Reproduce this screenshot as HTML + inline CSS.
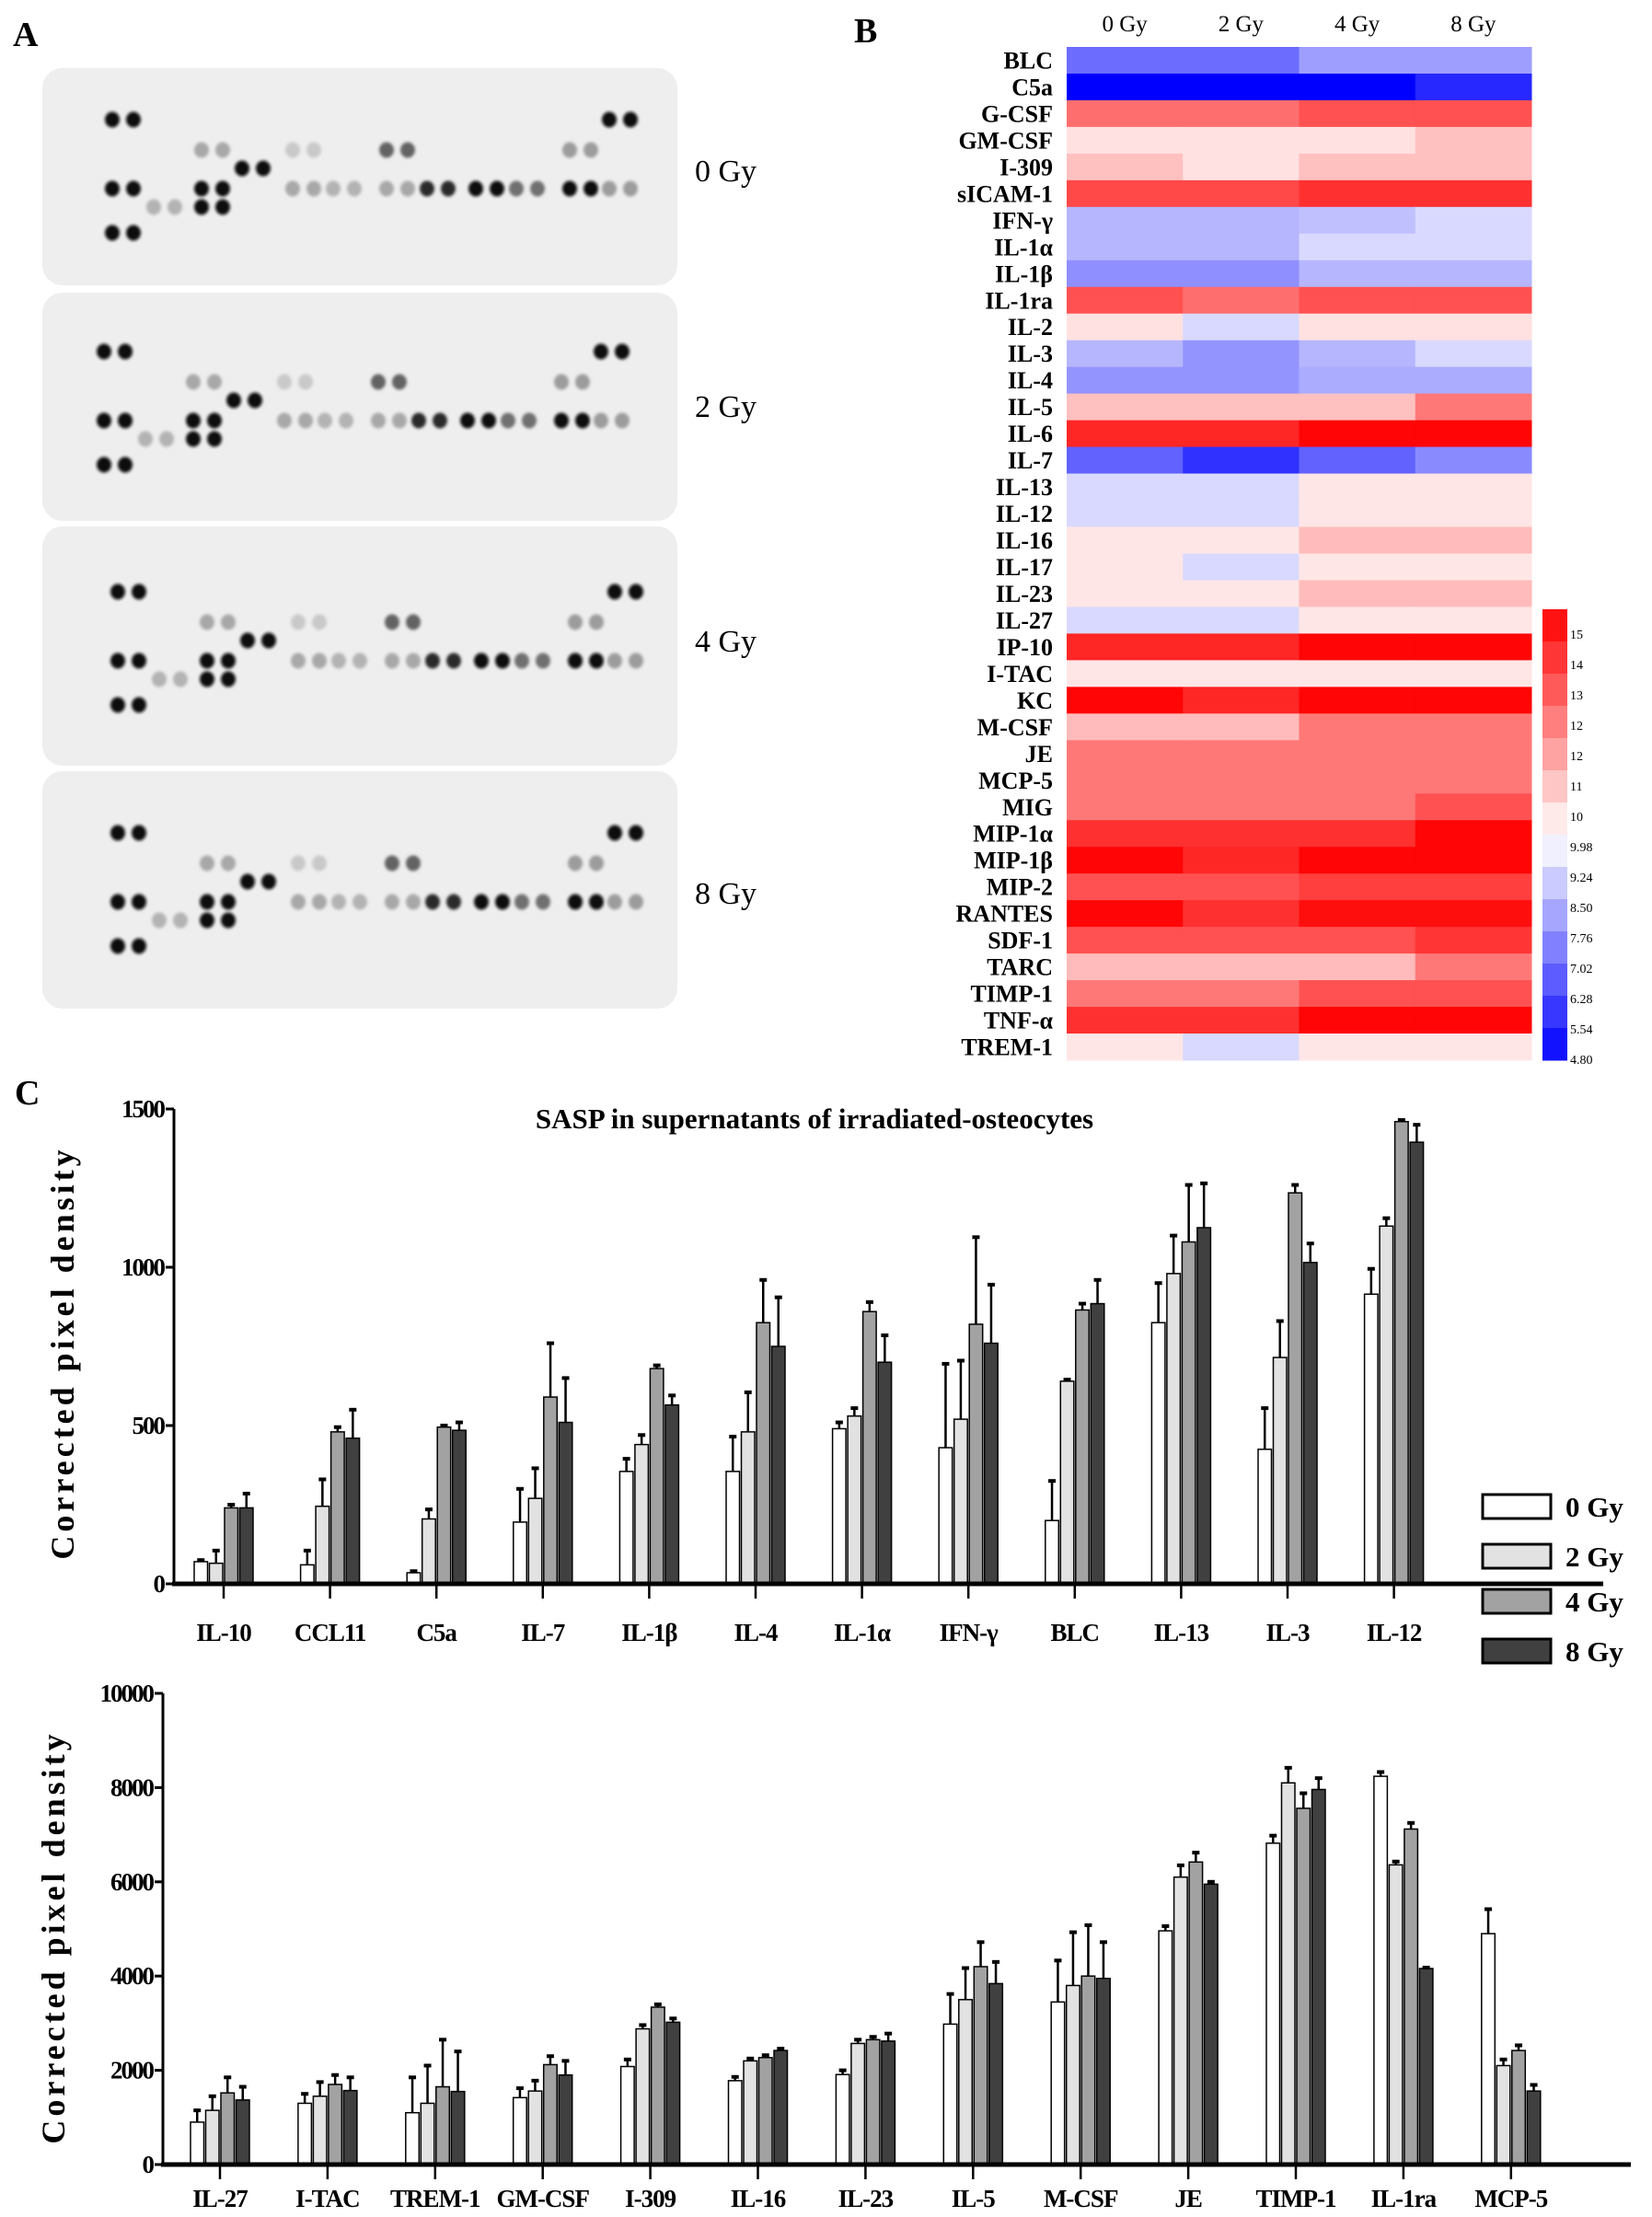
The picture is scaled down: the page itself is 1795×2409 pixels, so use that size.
<!DOCTYPE html>
<html><head><meta charset="utf-8"><style>
html,body{margin:0;padding:0;background:#fff}
svg{display:block}
text{font-family:"Liberation Serif",serif}
</style></head><body>
<svg id="fig" width="1795" height="2409" viewBox="0 0 1795 2409" xmlns="http://www.w3.org/2000/svg">
<defs><filter id="blur" x="-50%" y="-50%" width="200%" height="200%"><feGaussianBlur stdDeviation="1.6"/></filter></defs>
<g id="panelA"></g>
<g id="panelB"></g>
<g id="chart1"></g>
<g id="chart2"></g>
</svg>
<script>
const NS="http://www.w3.org/2000/svg";
function mk(parent,tag,attrs,txt){const e=document.createElementNS(NS,tag);for(const k in attrs)e.setAttribute(k,attrs[k]);if(txt!==undefined)e.textContent=txt;parent.appendChild(e);return e;}

// ---------- Panel A data ----------
const blotDoses=["0 Gy","2 Gy","4 Gy","8 Gy"];
const blotRowY=[130,163,183,205,225,253];
const blotSpots=[[122,0,1],[122,3,1],[122,5,1],[167,4,0.25],[219,1,0.3],[219,3,1],[219,4,1],[263,2,1],[318,1,0.15],[318,3,0.3],[362,3,0.25],[420,1,0.6],[420,3,0.3],[464,3,0.85],[517,3,1],[561,3,0.55],[619,1,0.35],[619,3,1],[662,0,1],[662,3,0.35]];
const A=document.getElementById('panelA');
let t=mk(A,'text',{x:14,y:50,'font-size':38,'font-weight':'bold'},'A');


const memTop=[74,318,572,838],memBot=[310,566,832,1096],memDy=[0,252,513,775],memDx=[0,-9,6,6];
blotDoses.forEach((d,m)=>{
  const r=mk(A,'rect',{x:46,y:memTop[m],width:690,height:memBot[m]-memTop[m],rx:22,fill:'#eeeeee'});
  
  
  const g=mk(A,'g',{filter:'url(#blur)'});
  blotSpots.forEach(s=>{
    const c=Math.round(235-225*s[2]);
    for(let k=0;k<2;k++){
      const e=mk(g,'ellipse',{cx:s[0]+k*23+memDx[m],cy:blotRowY[s[1]]+memDy[m],rx:8,ry:8.5,fill:`rgb(${c},${c},${c})`});
      
      
    }
  });
  const lt=mk(A,'text',{x:755,y:[197,453,708,982][m],'font-size':34},d);
  
  
});

// ---------- Panel B data ----------
const hmRows=["BLC","C5a","G-CSF","GM-CSF","I-309","sICAM-1","IFN-γ","IL-1α","IL-1β","IL-1ra","IL-2","IL-3","IL-4","IL-5","IL-6","IL-7","IL-13","IL-12","IL-16","IL-17","IL-23","IL-27","IP-10","I-TAC","KC","M-CSF","JE","MCP-5","MIG","MIP-1α","MIP-1β","MIP-2","RANTES","SDF-1","TARC","TIMP-1","TNF-α","TREM-1"];
const hmCols=["0 Gy","2 Gy","4 Gy","8 Gy"];
const hm0=[7.0,4.8,13.0,10.6,11.3,13.8,8.5,8.5,7.7,13.6,10.6,8.5,7.8,11.3,14.5,6.8,9.2,9.2,10.5,10.5,10.5,9.2,14.5,10.5,15.2,11.4,12.8,12.8,12.8,14.3,15.2,13.6,15.2,13.6,11.4,12.8,14.3,10.5];
const hm2=[7.0,4.8,13.0,10.6,10.6,13.8,8.5,8.5,7.7,13.0,9.2,7.8,7.8,11.3,14.5,5.8,9.2,9.2,10.5,9.2,10.5,9.2,14.5,10.5,14.5,11.4,12.8,12.8,12.8,14.3,14.5,13.6,14.3,13.6,11.4,12.8,14.3,9.2];
const hm4=[8.0,4.8,13.6,10.6,11.3,14.3,8.7,9.2,8.5,13.6,10.6,8.5,8.3,11.3,15.2,6.8,10.5,10.5,11.4,10.5,11.4,10.5,15.2,10.5,15.2,12.8,12.8,12.8,12.8,14.3,15.2,14.0,15.0,13.6,11.4,13.6,15.2,10.5];
const hm8=[8.0,5.6,13.6,11.3,11.3,14.3,9.2,9.2,8.5,13.6,10.6,9.2,8.3,12.8,15.2,7.6,10.5,10.5,11.4,10.5,11.4,10.5,15.2,10.5,15.2,12.8,12.8,12.8,13.6,15.2,15.2,14.0,15.0,14.2,12.8,13.6,15.2,10.5];
const cbLabels=["15","14","13","12","12","11","10","9.98","9.24","8.50","7.76","7.02","6.28","5.54","4.80"];
function hcol(v){
  if(v<9.98){const t=Math.min(1,(9.98-v)/(9.98-4.8));const c=Math.round(255*(1-t));return `rgb(${c},${c},255)`;}
  const t=Math.min(1,(v-9.98)/(15.3-9.98));const c=Math.round(255*(1-t));return `rgb(255,${c},${c})`;
}
const B=document.getElementById('panelB');
t=mk(B,'text',{x:928,y:46,'font-size':38,'font-weight':'bold'},'B');


const hx0=1159,hx1=1664,hy0=51,hy1=1152;
const cw=(hx1-hx0)/4,rh=(hy1-hy0)/hmRows.length;
const hmSeries=[hm0,hm2,hm4,hm8];
hmCols.forEach((c,j)=>{
  const tx=mk(B,'text',{x:hx0+cw*(j+0.5),y:34,'font-size':25,'text-anchor':'middle'},c);
  
  
});
hmRows.forEach((r,i)=>{
  hmSeries.forEach((s,j)=>{
    const rc=mk(B,'rect',{x:hx0+cw*j,y:hy0+rh*i,width:cw+0.5,height:rh+0.5,fill:hcol(s[i])});
    
    
  });
  const tx=mk(B,'text',{x:1144,y:hy0+rh*(i+0.5)+9,'font-size':26,'font-weight':'bold','text-anchor':'end'},r);
  
  
});
const cbx=1676,cby0=662,cby1=1152,nb=14;
for(let k=0;k<nb;k++){
  const v=15.3-(15.3-4.8)*(k+0.5)/nb;
  const rc=mk(B,'rect',{x:cbx,y:cby0+(cby1-cby0)*k/nb,width:27,height:(cby1-cby0)/nb+0.5,fill:hcol(v)});
  
  
}
cbLabels.forEach((l,k)=>{
  const tx=mk(B,'text',{x:1706,y:cby0+28+k*(cby1-cby0-28)/(cbLabels.length-1)+4,'font-size':14,'font-family':'Liberation Sans, sans-serif'},l);
  
  
});

// ---------- Panel C data ----------
const c1Cats=["IL-10","CCL11","C5a","IL-7","IL-1β","IL-4","IL-1α","IFN-γ","BLC","IL-13","IL-3","IL-12"];
const c1Gy0=[70,60,35,195,355,355,490,430,200,825,425,915];
const c1Gy2=[65,245,205,270,440,480,530,520,640,980,715,1130];
const c1Gy4=[240,480,495,590,680,825,860,820,865,1080,1235,1460];
const c1Gy8=[240,460,485,510,565,750,700,760,885,1125,1015,1395];
const c1Err0=[5,45,5,105,40,110,20,265,125,125,130,80];
const c1Err2=[40,85,30,95,30,125,25,185,5,120,115,25];
const c1Err4=[10,15,5,170,10,135,30,275,20,180,25,5];
const c1Err8=[45,90,25,140,30,155,85,185,75,140,60,55];
const c1Ticks=[0,500,1000,1500];

const c2Cats=["IL-27","I-TAC","TREM-1","GM-CSF","I-309","IL-16","IL-23","IL-5","M-CSF","JE","TIMP-1","IL-1ra","MCP-5"];
const c2Gy0=[900,1300,1100,1420,2080,1780,1910,2980,3450,4960,6820,8240,4900];
const c2Gy2=[1150,1450,1300,1560,2880,2200,2570,3500,3800,6100,8100,6360,2100];
const c2Gy4=[1520,1700,1650,2120,3340,2270,2650,4200,4000,6420,7560,7120,2420];
const c2Gy8=[1370,1570,1550,1900,3020,2420,2620,3840,3950,5950,7960,4160,1560];
const c2Err0=[250,200,750,200,150,80,90,640,880,100,160,90,520];
const c2Err2=[300,300,800,220,80,50,80,670,1130,250,320,70,130];
const c2Err4=[330,200,1000,180,60,50,60,520,1080,200,320,130,110];
const c2Err8=[280,280,850,300,80,40,160,460,770,50,240,20,130];
const c2Ticks=[0,2000,4000,6000,8000,10000];

const fills=["#ffffff","#e2e2e2","#a2a2a2","#404040"];
const legendLabels=["0 Gy","2 Gy","4 Gy","8 Gy"];

function drawChart(gid,cats,series,errs,ticks,o){
  const G=document.getElementById(gid);
  const ymax=ticks[ticks.length-1];
  const Y=v=>o.y0-(o.y0-o.y1)*v/ymax;
  const X=i=>o.c0+i*o.step;
  ticks.forEach(tv=>{
    const ln=mk(G,'line',{x1:o.ax-9,x2:o.ax,y1:Y(tv),y2:Y(tv),stroke:'#000','stroke-width':3});
    
    
    const tx=mk(G,'text',{x:o.ax-11,y:Y(tv)+9,'font-size':27,'font-weight':'bold','text-anchor':'end','letter-spacing':-2},String(tv));
    
    
  });
  cats.forEach((c,i)=>{
    series.forEach((s,k)=>{
      const bx=X(i)+(k-2)*16.5+1;
      const rc=mk(G,'rect',{x:bx,y:Y(s[i]),width:14.5,height:Y(0)-Y(s[i]),fill:fills[k],stroke:'#000','stroke-width':1.5});
      
      
      const top=Y(s[i]+errs[k][i]),mx=bx+7.25;
      const el=mk(G,'line',{x1:mx,x2:mx,y1:Y(s[i]),y2:top,stroke:'#000','stroke-width':2.5});
      
      
      const cap=mk(G,'line',{x1:mx-4,x2:mx+4,y1:top,y2:top,stroke:'#000','stroke-width':4});
      
      
    });
    const tk=mk(G,'line',{x1:X(i),x2:X(i),y1:o.y0,y2:o.y0+16,stroke:'#000','stroke-width':2.5});
    
    
    const tx=mk(G,'text',{x:X(i),y:o.xl,'font-size':27,'font-weight':'bold','text-anchor':'middle','letter-spacing':-1},c);
    
    
  });
  const ya=mk(G,'line',{x1:o.ax,x2:o.ax,y1:o.y1,y2:o.y0,stroke:'#000','stroke-width':3});
  
  
  const xa=mk(G,'line',{x1:o.ax-2,x2:o.xend,y1:o.y0,y2:o.y0,stroke:'#000','stroke-width':5});
  
  
  const yt=mk(G,'text',{x:0,y:0,'font-size':36,'font-weight':'bold','text-anchor':'middle','letter-spacing':4,transform:`translate(${o.ytx},${o.yty}) rotate(-90)`},'Corrected pixel density');
  
  
}
const C1=document.getElementById('chart1');
t=mk(C1,'text',{x:16,y:1200,'font-size':38,'font-weight':'bold'},'C');


t=mk(C1,'text',{x:885,y:1226,'font-size':31,'font-weight':'bold','text-anchor':'middle'},'SASP in supernatants of irradiated-osteocytes');


drawChart('chart1',c1Cats,[c1Gy0,c1Gy2,c1Gy4,c1Gy8],[c1Err0,c1Err2,c1Err4,c1Err8],c1Ticks,{y0:1721,y1:1205,ax:189,xend:1742,c0:243,step:115.6,xl:1783,ytx:80,yty:1470});
drawChart('chart2',c2Cats,[c2Gy0,c2Gy2,c2Gy4,c2Gy8],[c2Err0,c2Err2,c2Err4,c2Err8],c2Ticks,{y0:2352,y1:1840,ax:177,xend:1772,c0:239,step:116.9,xl:2398,ytx:70,yty:2105});
const legY=[1637,1691,1740,1794];
legendLabels.forEach((l,k)=>{
  const rc=mk(C1,'rect',{x:1611,y:legY[k]-13,width:74,height:26,fill:fills[k],stroke:'#000','stroke-width':3});
  
  
  const tx=mk(C1,'text',{x:1701,y:legY[k]+11,'font-size':31,'font-weight':'bold'},l);
  
  
});
</script>
</body></html>
